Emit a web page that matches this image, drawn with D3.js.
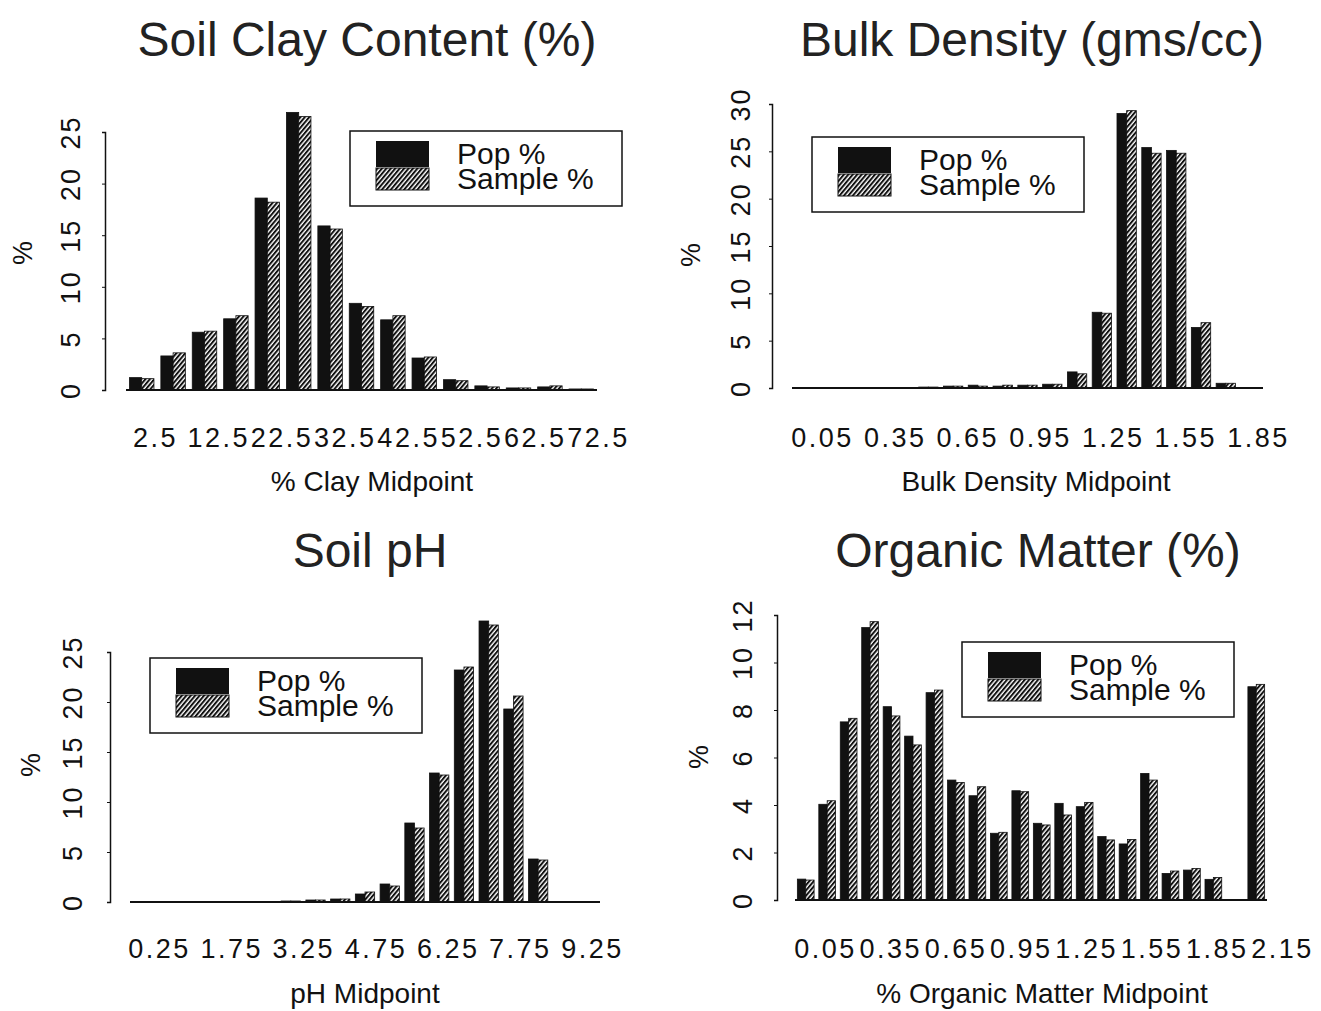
<!DOCTYPE html>
<html>
<head>
<meta charset="utf-8">
<script src="https://cdn.jsdelivr.net/npm/d3@7"></script>
<style>
  body { margin: 0; background: #fff; }
  svg { display: block; font-family: "Liberation Sans", Arial, sans-serif; }
</style>
</head>
<body>
<svg id="chart" width="1321" height="1011"></svg>
<script>
// ---- data ----
let seriesNames = ["Pop %", "Sample %"]

let clayMid = ["2.5","7.5","12.5","17.5","22.5","27.5","32.5","37.5","42.5","47.5","52.5","57.5","62.5","67.5","72.5"]
let clayPop = [1.2, 3.3, 5.6, 6.9, 18.6, 26.9, 15.9, 8.4, 6.8, 3.1, 1.0, 0.4, 0.2, 0.3, 0.1]
let claySample = [1.1, 3.6, 5.7, 7.2, 18.2, 26.5, 15.6, 8.1, 7.2, 3.2, 0.9, 0.3, 0.2, 0.4, 0.1]
let clayTicks = ["2.5","12.5","22.5","32.5","42.5","52.5","62.5","72.5"]
let clayYTicks = [0, 5, 10, 15, 20, 25]

let bulkMid = ["0.05","0.15","0.25","0.35","0.45","0.55","0.65","0.75","0.85","0.95","1.05","1.15","1.25","1.35","1.45","1.55","1.65","1.75","1.85"]
let bulkPop = [0, 0, 0, 0, 0.05, 0.1, 0.2, 0.3, 0.2, 0.3, 0.4, 1.7, 8.0, 29.0, 25.4, 25.1, 6.4, 0.5, 0]
let bulkSample = [0, 0, 0, 0, 0.05, 0.1, 0.2, 0.2, 0.3, 0.3, 0.4, 1.5, 7.9, 29.3, 24.8, 24.8, 6.9, 0.5, 0]
let bulkTicks = ["0.05","0.35","0.65","0.95","1.25","1.55","1.85"]
let bulkYTicks = [0, 5, 10, 15, 20, 25, 30]

let phMid = ["0.25","0.75","1.25","1.75","2.25","2.75","3.25","3.75","4.25","4.75","5.25","5.75","6.25","6.75","7.25","7.75","8.25","8.75","9.25"]
let phPop = [0, 0, 0, 0, 0, 0, 0.1, 0.2, 0.3, 0.8, 1.8, 7.9, 12.9, 23.2, 28.1, 19.3, 4.3, 0, 0]
let phSample = [0, 0, 0, 0, 0, 0, 0.1, 0.2, 0.3, 1.0, 1.6, 7.4, 12.7, 23.5, 27.7, 20.6, 4.2, 0, 0]
let phTicks = ["0.25","1.75","3.25","4.75","6.25","7.75","9.25"]
let phYTicks = [0, 5, 10, 15, 20, 25]

let omMid = ["0.05","0.15","0.25","0.35","0.45","0.55","0.65","0.75","0.85","0.95","1.05","1.15","1.25","1.35","1.45","1.55","1.65","1.75","1.85","1.95","2.05","2.15"]
let omPop = [0.88, 4.03, 7.5, 11.47, 8.14, 6.9, 8.73, 5.05, 4.39, 2.81, 4.6, 3.23, 4.07, 3.93, 2.67, 2.36, 5.33, 1.12, 1.26, 0.87, 0, 8.98]
let omSample = [0.84, 4.18, 7.65, 11.72, 7.75, 6.53, 8.84, 4.95, 4.77, 2.85, 4.56, 3.16, 3.58, 4.11, 2.53, 2.55, 5.05, 1.22, 1.33, 0.95, 0, 9.08]
let omTicks = ["0.05","0.35","0.65","0.95","1.25","1.55","1.85","2.15"]
let omYTicks = [0, 2, 4, 6, 8, 10, 12]

const ink = "#111"
const svg = d3.select("#chart")

// hatch for the sample bars
let defs = svg.append("defs")
defs.append("pattern")
    .attr("id", "hatch")
    .attr("patternUnits", "userSpaceOnUse")
    .attr("width", 3.4).attr("height", 3.4)
    .attr("patternTransform", "rotate(40)")
  .call(p => {
    p.append("rect").attr("width", 3.4).attr("height", 3.4).attr("fill", "#fff")
    p.append("line").attr("x1", 1).attr("y1", 0).attr("x2", 1).attr("y2", 3.4)
      .attr("stroke", ink).attr("stroke-width", 2)
  })

function drawPanel(o) {
    let g = svg.append("g")

    let x = d3.scaleBand()
        .domain(o.mids)
        .range([o.x0, o.x1])
        .paddingInner(0.22)
        .paddingOuter(0.11)
    let xs = d3.scaleBand()
        .domain(seriesNames)
        .range([0, x.bandwidth()])
    let y = d3.scaleLinear()
        .domain([0, o.yMax])
        .range([o.base, o.top])

    // title
    g.append("text")
        .attr("x", o.titleX).attr("y", o.titleY)
        .attr("text-anchor", "middle")
        .attr("font-size", "48px")
        .attr("fill", "#222")
        .text(o.title)

    // bars
    let rows = o.mids.map((m, i) => ({mid: m, vals: [o.pop[i], o.sample[i]]}))
    let bins = g.selectAll("g.bin")
        .data(rows)
        .enter()
        .append("g")
        .attr("transform", d => "translate(" + x(d.mid) + ",0)")
    bins.selectAll("rect")
        .data(d => d.vals.map((v, k) => ({key: seriesNames[k], v: v})))
        .enter()
        .append("rect")
            .attr("x", d => xs(d.key))
            .attr("y", d => y(d.v))
            .attr("width", xs.bandwidth())
            .attr("height", d => o.base - y(d.v))
            .attr("fill", d => d.key == "Pop %" ? ink : "url(#hatch)")
            .attr("stroke", ink)
            .attr("stroke-width", 0.8)

    // baseline
    g.append("line")
        .attr("x1", o.x0).attr("x2", o.x1)
        .attr("y1", y(0)).attr("y2", y(0))
        .attr("stroke", ink).attr("stroke-width", 2)

    // y axis
    let ya = g.append("g")
        .attr("transform", "translate(" + o.ax + ",0)")
        .call(d3.axisLeft(y).tickValues(o.yTicks).tickSize(3).tickFormat(d3.format("d")))
    ya.select(".domain").attr("stroke", ink).attr("stroke-width", 1.5)
    ya.selectAll(".tick line").attr("stroke", ink)
    ya.selectAll(".tick text")
        .attr("x", null)
        .attr("dy", "0.36em")
        .attr("text-anchor", "middle")
        .attr("transform", "translate(" + (o.yLabX - o.ax) + ",0) rotate(-90)")
        .attr("font-size", "27px")
        .attr("letter-spacing", "2px")
        .attr("fill", ink)

    g.append("text")
        .attr("transform", "translate(" + o.pctX + "," + o.pctY + ") rotate(-90)")
        .attr("dy", "0.36em")
        .attr("text-anchor", "middle")
        .attr("font-size", "27px")
        .attr("fill", ink)
        .text("%")

    // x tick labels
    let lab = d3.scalePoint().domain(o.ticks).range(o.tickRange)
    let xa = g.append("g")
        .attr("transform", "translate(0," + o.base + ")")
        .call(d3.axisBottom(lab).tickSize(0).tickPadding(o.tickBase - o.base - 19))
    xa.select(".domain").remove()
    xa.selectAll(".tick text")
        .attr("font-size", "27px")
        .attr("letter-spacing", "2.5px")
        .attr("fill", ink)

    g.append("text")
        .attr("x", o.xTitleX).attr("y", o.xTitleY)
        .attr("text-anchor", "middle")
        .attr("font-size", "28px")
        .attr("fill", ink)
        .text(o.xTitle)

    // legend
    let lg = g.append("g").attr("transform", "translate(" + o.legX + "," + o.legY + ")")
    lg.append("rect")
        .attr("width", 272).attr("height", 75)
        .attr("fill", "#fff").attr("stroke", ink).attr("stroke-width", 1.5)
    lg.append("rect").attr("x", 26).attr("y", 10).attr("width", 53).attr("height", 26).attr("fill", ink)
    lg.append("rect").attr("x", 26).attr("y", 37).attr("width", 53).attr("height", 22)
        .attr("fill", "url(#hatch)").attr("stroke", ink).attr("stroke-width", 1)
    lg.selectAll("text.lab")
        .data(seriesNames)
        .enter()
        .append("text")
            .attr("x", 107)
            .attr("y", (d, i) => 33 + i * 25)
            .attr("font-size", "30px")
            .attr("fill", ink)
            .text(d => d)
}

drawPanel({
    title: "Soil Clay Content (%)", titleX: 367, titleY: 56,
    mids: clayMid, pop: clayPop, sample: claySample, ticks: clayTicks, yTicks: clayYTicks,
    yMax: 25, base: 390, top: 132, ax: 105, x0: 126, x1: 597,
    yLabX: 70, pctX: 22, pctY: 253,
    tickRange: [155, 598], tickBase: 447,
    xTitle: "% Clay Midpoint", xTitleX: 372, xTitleY: 491,
    legX: 350, legY: 131
})

drawPanel({
    title: "Bulk Density (gms/cc)", titleX: 1032, titleY: 56,
    mids: bulkMid, pop: bulkPop, sample: bulkSample, ticks: bulkTicks, yTicks: bulkYTicks,
    yMax: 30, base: 388, top: 104, ax: 772, x0: 792, x1: 1263,
    yLabX: 740, pctX: 690, pctY: 255,
    tickRange: [822, 1258], tickBase: 447,
    xTitle: "Bulk Density Midpoint", xTitleX: 1036, xTitleY: 491,
    legX: 812, legY: 137
})

drawPanel({
    title: "Soil pH", titleX: 370, titleY: 567,
    mids: phMid, pop: phPop, sample: phSample, ticks: phTicks, yTicks: phYTicks,
    yMax: 25, base: 902, top: 652, ax: 110, x0: 130, x1: 600,
    yLabX: 72, pctX: 30, pctY: 765,
    tickRange: [159, 592], tickBase: 958,
    xTitle: "pH Midpoint", xTitleX: 365, xTitleY: 1003,
    legX: 150, legY: 658
})

drawPanel({
    title: "Organic Matter (%)", titleX: 1038, titleY: 567,
    mids: omMid, pop: omPop, sample: omSample, ticks: omTicks, yTicks: omYTicks,
    yMax: 12, base: 900, top: 615, ax: 777, x0: 795, x1: 1267,
    yLabX: 742, pctX: 698, pctY: 757,
    tickRange: [825, 1282], tickBase: 958,
    xTitle: "% Organic Matter Midpoint", xTitleX: 1042, xTitleY: 1003,
    legX: 962, legY: 642
})
</script>
</body>
</html>
